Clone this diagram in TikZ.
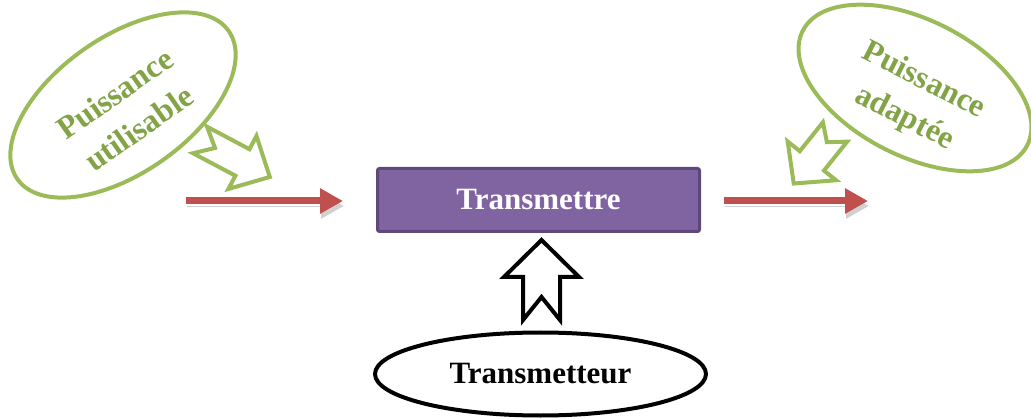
\documentclass[tikz,border=0pt]{standalone}
\usepackage{fontspec}
\setmainfont{Liberation Serif}
\usetikzlibrary{shapes.geometric,arrows.meta}
\definecolor{offgreen}{HTML}{9BBB59}
\definecolor{txtgreen}{HTML}{82A446}
\definecolor{offred}{HTML}{C0504D}
\definecolor{offpurple}{HTML}{8064A2}
\definecolor{darkpurple}{HTML}{5F497A}
\newcommand{\myblockarrow}[8]{%
  \draw[#1,shift={#2},rotate=#3] (0,#6) -- ({#4-#5},#6) -- ({#4-#5},#7) -- (#4,0)
    -- ({#4-#5},-#7) -- ({#4-#5},-#6) -- (0,-#6) -- (#8,0) -- cycle;}
\begin{document}
\begin{tikzpicture}[x=1pt,y=1pt,
  greenell/.style={ellipse,draw=offgreen,line width=4pt,fill=white,inner sep=0pt},
  greentxt/.style={text=txtgreen,font=\fontsize{32}{42}\selectfont\bfseries,align=center,inner sep=0pt},
  blackell/.style={ellipse,draw=black,line width=4pt,fill=white,inner sep=0pt},
  mainbox/.style={rectangle,rounded corners=2pt,fill=offpurple,draw=darkpurple,line width=3pt,
    text=white,font=\fontsize{31}{36}\selectfont\bfseries,minimum width=322pt,minimum height=63pt},
  greenarrow/.style={draw=offgreen,fill=white,line width=4pt,line join=miter},
  blackarrow/.style={draw=black,fill=white,line width=4pt,line join=miter},
  redarrow/.style={draw=offred,line width=7pt,-{Triangle[length=23pt,width=24pt]},
    preaction={draw=black!18,transform canvas={shift={(1pt,-5pt)}}}}
]
\useasboundingbox (0,0) rectangle (1031,418);

% left ellipse
\node[greenell,minimum width=258pt,minimum height=136pt,rotate=35] (eu) at (123,313) {};
\node[greentxt,rotate=35] (tu) at (127,307) {Puissance\\utilisable};

% right ellipse
\node[greenell,minimum width=252pt,minimum height=136pt,rotate=-27] (ea) at (915,330) {};
\node[greentxt,rotate=-27] (ta) at (914,318) {Puissance\\adaptée};

% green block arrows
\myblockarrow{greenarrow}{(200,278)}{-27.9}{79}{31}{15}{30}{17}
\myblockarrow{greenarrow}{(835,286)}{-128.7}{66}{29}{15.5}{31}{13}

% main box
\node[mainbox] (tr) at (538.5,218) {Transmettre};

% red arrows
\coordinate (l1) at (186,217);
\coordinate (l2) at (343,217);
\coordinate (r1) at (724,217);
\coordinate (r2) at (868,217);
\draw[redarrow] (l1) -- (l2);
\draw[redarrow] (r1) -- (r2);

% bottom ellipse
\node[blackell,minimum width=331pt,minimum height=83pt,font=\fontsize{31}{36}\selectfont\bfseries] (tt) at (540.5,44) {Transmetteur};

% black block arrow
\myblockarrow{blackarrow}{(541.5,98)}{90}{80}{37}{18.5}{37.5}{23}
\end{tikzpicture}
\end{document}
